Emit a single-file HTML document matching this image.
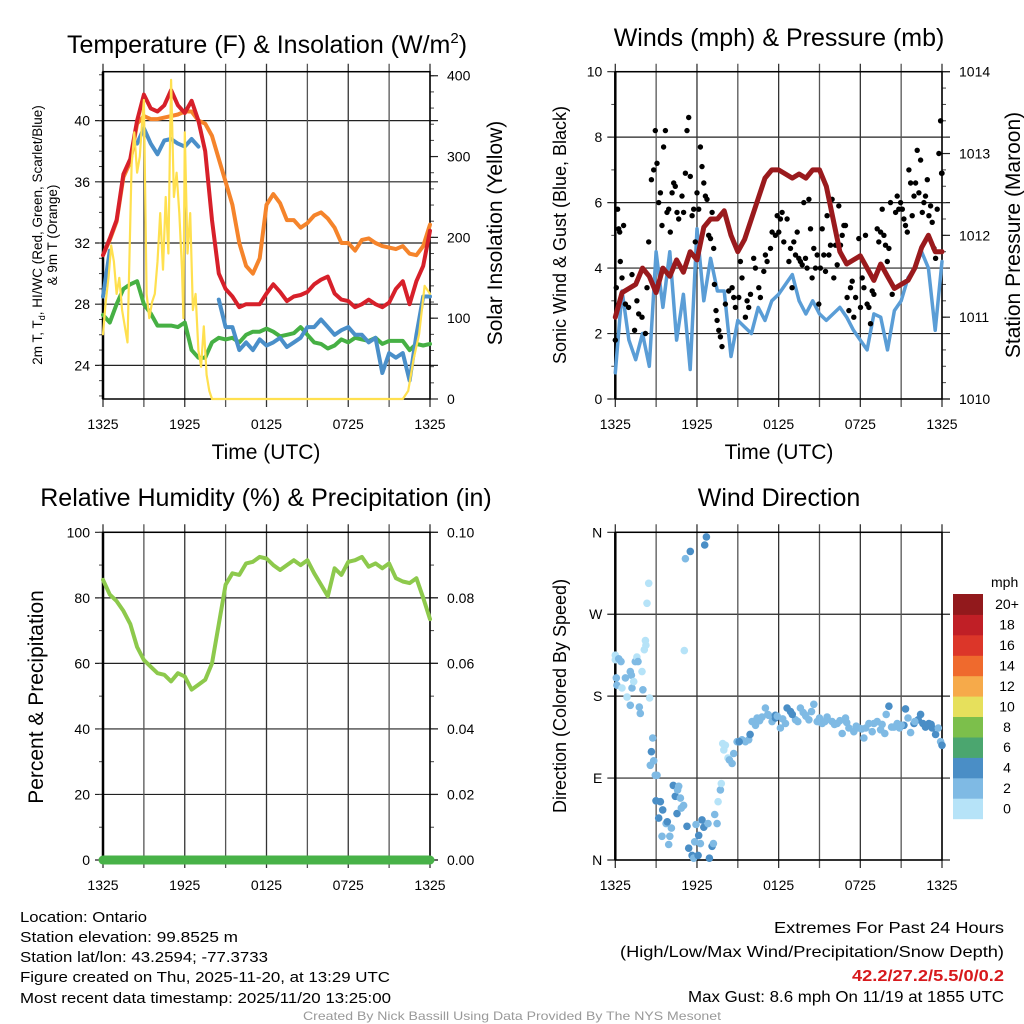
<!DOCTYPE html>
<html><head><meta charset="utf-8"><title>Mesonet Station Meteogram</title>
<style>
html,body{margin:0;padding:0;background:#fff;}
svg{display:block;font-family:"Liberation Sans",Arial,sans-serif;}
</style></head>
<body>
<svg id="fig" width="1024" height="1024" viewBox="0 0 1024 1024" xmlns="http://www.w3.org/2000/svg">
<rect x="0" y="0" width="1024" height="1024" fill="#fff"/>
<g id="layer"></g>
<text x="267" y="53" font-size="25" text-anchor="middle">Temperature (F) &amp; Insolation (W/m<tspan font-size="15" dy="-10">2</tspan><tspan dy="10">)</tspan></text>
<text x="779" y="46" font-size="25" text-anchor="middle">Winds (mph) &amp; Pressure (mb)</text>
<text x="266" y="506" font-size="25" text-anchor="middle">Relative Humidity (%) &amp; Precipitation (in)</text>
<text x="779" y="506" font-size="25" text-anchor="middle">Wind Direction</text>

<text x="266" y="459" font-size="21" text-anchor="middle">Time (UTC)</text>
<text x="779" y="459" font-size="21" text-anchor="middle">Time (UTC)</text>

<text transform="translate(42,235) rotate(-90)" font-size="13.5" text-anchor="middle">2m T, T<tspan font-size="9" dy="3">d</tspan><tspan dy="-3">, HI/WC (Red, Green, Scarlet/Blue)</tspan></text>
<text transform="translate(57,235) rotate(-90)" font-size="13.5" text-anchor="middle">&amp; 9m T (Orange)</text>
<text transform="translate(502,233) rotate(-90)" font-size="21" text-anchor="middle">Solar Insolation (Yellow)</text>
<text transform="translate(566,235) rotate(-90)" font-size="18" text-anchor="middle">Sonic Wind &amp; Gust (Blue, Black)</text>
<text transform="translate(1020,235) rotate(-90)" font-size="21" text-anchor="middle">Station Pressure (Maroon)</text>
<text transform="translate(43,697) rotate(-90)" font-size="21" text-anchor="middle">Percent &amp; Precipitation</text>
<text transform="translate(566,696) rotate(-90)" font-size="18" text-anchor="middle">Direction (Colored By Speed)</text>

<g font-size="15">
<text x="20" y="922" textLength="127" lengthAdjust="spacingAndGlyphs">Location: Ontario</text>
<text x="20" y="942" textLength="218" lengthAdjust="spacingAndGlyphs">Station elevation: 99.8525 m</text>
<text x="20" y="962" textLength="248" lengthAdjust="spacingAndGlyphs">Station lat/lon: 43.2594; -77.3733</text>
<text x="20" y="982" textLength="370" lengthAdjust="spacingAndGlyphs">Figure created on Thu, 2025-11-20, at 13:29 UTC</text>
<text x="20" y="1003" textLength="371" lengthAdjust="spacingAndGlyphs">Most recent data timestamp: 2025/11/20 13:25:00</text>
</g>
<g font-size="16">
<text x="774" y="933" textLength="230" lengthAdjust="spacingAndGlyphs">Extremes For Past 24 Hours</text>
<text x="620" y="957" textLength="384" lengthAdjust="spacingAndGlyphs">(High/Low/Max Wind/Precipitation/Snow Depth)</text>
<text x="852" y="981" textLength="152" lengthAdjust="spacingAndGlyphs" fill="#d7191c" font-weight="bold">42.2/27.2/5.5/0/0.2</text>
<text x="688" y="1002" textLength="316" lengthAdjust="spacingAndGlyphs">Max Gust: 8.6 mph On 11/19 at 1855 UTC</text>
</g>
<text x="512" y="1020" font-size="12" fill="#999" text-anchor="middle" textLength="418" lengthAdjust="spacingAndGlyphs">Created By Nick Bassill Using Data Provided By The NYS Mesonet</text>
</svg>
<script>
// ---------- data ----------
const timeTickHours = [0, 6, 12, 18, 24];
const timeTickLabels = ["1325", "1925", "0125", "0725", "1325"];
const halfHourSteps = [0,0.5,1,1.5,2,2.5,3,3.5,4,4.5,5,5.5,6,6.5,7,7.5,8,8.5,9,9.5,10,10.5,11,11.5,12,12.5,13,13.5,14,14.5,15,15.5,16,16.5,17,17.5,18,18.5,19,19.5,20,20.5,21,21.5,22,22.5,23,23.5,24];

const tempRed = [31.2,32.3,33.5,36.5,37.5,40,41.7,40.8,40.6,41,42,41,40.5,41.3,40,38,33.5,30,29,28.5,27.8,28,28,28,28.7,29.3,28.8,28.2,28.5,28.6,28.8,29.3,29.6,29.8,28.7,28.3,28.2,27.8,28,28.3,28,27.8,28.1,29,29.5,28,29.5,30.5,32.8];
const temp9mOrange = [31.2,32.2,33.4,36.3,37.3,39.8,40.3,40.1,40.1,40.2,40.3,40.4,40.6,40.6,40,39.8,39,37.5,36,34.5,32,30.5,30,31,34.5,35.2,34.6,33.5,33.5,33,33.3,33.8,34,33.6,33,32,32,31.5,32.2,32.3,32,31.8,31.7,31.6,31.8,31.3,31.2,31.8,33.2];
const tempBlue = [28.5,31.5,null,null,null,38.5,39.5,38.5,37.8,38.7,38.8,38.5,38.3,38.8,38.3,null,null,28.3,26.5,26.5,25,25.5,25,25.7,25.3,25.5,25.8,25.2,25.5,25.8,26.5,26.5,27,26.5,26,26.3,26.5,26,26,25.5,25.8,23.5,24.8,24.5,24.8,23,26,28.5,28.5];
const dewGreen = [27.3,26.8,28,29,29.3,29.5,28,27.4,26.6,26.6,26.6,26.5,26.8,25,24.5,24.5,25.5,25.8,25.7,25.8,25.5,26,26.2,26.2,26.4,26.2,25.9,26,26.1,26.5,26,25.5,25.4,25.1,25.3,25.7,25.5,25.8,25.7,25.6,25.8,25.4,25.6,25.6,25.6,25,25.4,25.3,25.4];

const solarHours = [0,0.2,0.4,0.6,0.8,1.0,1.2,1.4,1.8,2.0,2.1,2.3,2.5,2.7,2.9,3.0,3.2,3.4,3.6,3.8,4.0,4.2,4.4,4.6,4.8,4.9,5.0,5.2,5.4,5.6,5.8,5.9,6.0,6.2,6.4,6.6,6.8,7.0,7.2,7.4,7.6,7.8,8.0,22.0,22.4,22.8,23.2,23.6,24];
const solarValues = [80,120,150,190,170,130,150,110,70,220,290,330,280,300,350,370,130,100,120,130,170,230,160,250,180,300,395,250,280,230,160,100,330,180,230,110,130,60,40,90,30,10,0,0,10,50,80,140,130];

const windSpeed = [0.8,3.3,1.8,1.2,2.0,1.0,4.5,2.8,4.5,1.8,3.2,0.9,5.2,3.0,4.3,3.3,3.3,1.3,2.4,2.2,2.0,2.8,2.4,3.0,3.2,3.5,3.8,3.0,2.6,3.0,2.6,2.4,2.6,2.8,2.5,2.1,1.8,1.5,2.6,2.5,1.5,2.7,3.0,3.7,4.0,4.5,4.0,2.1,4.2];
const pressure = [1011.0,1011.3,1011.35,1011.4,1011.6,1011.5,1011.3,1011.6,1011.5,1011.7,1011.55,1011.8,1011.7,1012.1,1012.2,1012.2,1012.3,1012.0,1011.8,1011.95,1012.2,1012.45,1012.7,1012.8,1012.8,1012.75,1012.7,1012.75,1012.7,1012.8,1012.8,1012.6,1012.2,1011.8,1011.65,1011.7,1011.75,1011.6,1011.45,1011.65,1011.5,1011.35,1011.4,1011.45,1011.6,1011.85,1012.0,1011.8,1011.8];

const gustHours = [0,0.07,0.17,0.25,0.32,0.37,0.49,0.61,0.74,0.98,1.23,1.42,1.59,1.72,1.96,2.21,2.33,2.45,2.65,2.82,2.94,3.06,3.19,3.31,3.43,3.55,3.68,3.80,3.92,4.04,4.17,4.29,4.41,4.53,4.66,4.90,5.02,5.15,5.27,5.39,5.51,5.64,5.76,5.88,6.00,6.13,6.25,6.37,6.50,6.62,6.74,6.86,6.99,7.11,7.23,7.28,7.40,7.48,7.60,7.72,7.84,8.09,8.33,8.58,8.70,8.82,9.07,9.19,9.31,9.56,9.68,9.80,9.93,10.17,10.29,10.54,10.66,10.91,11.03,11.15,11.40,11.52,11.76,11.89,12.01,12.13,12.25,12.38,12.62,12.75,12.87,12.99,13.11,13.24,13.36,13.48,13.60,13.73,13.85,13.97,14.09,14.22,14.34,14.46,14.58,14.71,14.83,14.95,15.07,15.20,15.32,15.44,15.56,15.69,15.81,15.93,16.05,16.18,16.30,16.42,16.54,16.67,16.79,16.91,17.03,17.16,17.28,17.40,17.52,17.65,17.89,18.01,18.14,18.26,18.38,18.50,18.63,18.75,18.87,19.00,19.24,19.36,19.49,19.61,19.73,19.85,19.98,20.10,20.22,20.34,20.59,20.71,20.83,20.96,21.08,21.20,21.32,21.45,21.57,21.69,21.81,21.94,22.06,22.18,22.30,22.43,22.55,22.67,22.79,22.92,23.04,23.16,23.28,23.41,23.53,23.65,23.77,23.90,23.97,24.0];
const gustSpeeds = [1.8,3.4,5.8,5.2,5.1,4.2,3.7,5.3,2.9,2.8,3.8,2.1,3.0,2.6,2.5,2.0,3.4,4.8,6.7,7.0,8.2,7.2,6.0,6.3,5.3,7.7,8.2,5.7,5.8,5.1,6.3,6.6,6.5,5.7,5.5,6.2,5.7,6.9,8.2,8.6,6.8,5.6,5.8,4.8,6.3,5.8,7.7,7.1,6.6,6.2,6.1,5.0,4.9,5.7,4.6,3.5,2.7,2.4,2.1,1.9,1.6,2.9,3.3,3.4,3.1,2.8,3.1,4.2,3.7,2.5,3.0,2.8,3.2,4.3,4.0,3.4,3.1,3.9,4.4,4.2,4.6,5.1,5.0,5.6,5.1,5.5,5.7,4.8,5.5,4.2,4.6,3.4,4.8,4.4,5.1,4.3,4.2,4.1,6.0,4.3,4.0,6.1,5.2,3.7,4.6,4.0,4.4,2.9,4.0,5.2,4.4,3.9,5.6,4.4,4.7,6.1,3.7,4.7,4.1,5.9,4.7,5.0,5.3,5.3,3.1,2.7,3.4,3.6,2.5,3.1,4.9,2.8,3.7,3.4,5.0,2.9,2.8,2.3,3.3,3.2,5.2,4.8,5.1,5.8,5.0,4.7,4.2,4.6,6.0,3.2,5.7,6.2,5.8,6.0,5.8,5.5,5.3,5.1,7.0,6.6,5.6,6.2,6.6,7.6,6.3,7.3,5.7,6.0,6.2,6.7,5.6,5.9,5.4,4.6,4.3,5.8,7.5,8.5,6.9,6.9];

const rhValues = [85.5,81,79,76,72,65,61,59,57,56.5,54.5,57,56,52,53.5,55,60,72,84,87.5,87,90.5,91,92.5,92,90,88.5,90,91.5,90,91.5,87.5,84,80.5,89,87,91,91.5,92.5,89.5,90.5,89,90.5,86,85,84.5,86,80,73.5];
const precipValues = [0,0,0,0,0,0,0,0,0,0,0,0,0,0,0,0,0,0,0,0,0,0,0,0,0,0,0,0,0,0,0,0,0,0,0,0,0,0,0,0,0,0,0,0,0,0,0,0,0];

const dirHours = [0,0,0.25,0.42,0.07,0.12,0.49,0.74,0.86,1.10,1.18,1.23,1.47,1.59,1.35,1.10,1.67,1.76,1.84,2.03,1.96,2.13,2.21,2.25,2.33,2.45,2.52,2.75,2.65,2.82,2.57,2.94,3.06,2.99,3.48,3.31,3.73,3.82,3.19,3.43,3.92,4.12,4.00,4.26,4.41,4.53,4.66,4.78,5.02,4.58,4.85,5.07,5.51,6.57,6.69,5.15,5.27,5.39,5.64,5.76,5.83,5.93,6.13,6.08,6.25,6.37,6.50,6.81,6.91,7.11,7.21,7.30,7.48,7.55,7.72,7.79,7.97,8.09,7.89,8.28,8.38,8.58,8.70,8.95,9.31,9.56,9.80,10.05,10.42,10.78,11.03,11.27,11.52,11.76,11.76,12.13,12.50,12.62,12.87,13.24,13.41,13.60,13.97,14.22,14.41,14.58,14.83,15.20,15.56,15.93,16.30,16.67,16.91,17.16,17.52,17.89,18.26,18.63,18.87,19.24,19.49,19.80,19.90,20.10,20.47,20.71,20.88,21.20,21.32,21.50,21.69,21.94,22.25,22.43,22.79,23.04,23.28,23.53,23.73,23.90,24,9.1,9.9,10.3,10.6,11.2,11.9,12.3,13.0,13.8,14.0,15.0,15.4,16.1,16.5,17.0,17.7,18.1,18.4,19.0,19.6,20.3,21.0,22.0,22.6,23.2];
const dirDegrees = [225,220,221,218,200,192,189,200,179,207,203,189,218,223,196,170,218,168,161,187,207,231,241,236,282,304,178,134,119,109,104,93,93,65,55,64,40,42,46,26,17,35,26,82,70,51,81,68,60,77,57,230,339,346,355,331,37,13,5,2,20,39,27,5,18,44,36,40,2,15,18,50,40,64,77,84,121,126,128,112,110,106,117,130,132,130,132,152,156,157,167,159,152,159,156,145,150,167,163,154,152,167,159,154,163,171,152,150,157,152,150,139,156,145,141,145,134,150,141,152,143,139,160,169,146,150,145,148,166,156,140,150,154,160,146,150,145,138,145,130,126,130,138,148,153,160,158,155,160,162,158,156,152,149,153,151,147,144,145,150,149,146,148,152,150,149,151,149,147,143,140];
const dirSpeeds = [1,1.5,2.5,2.5,2.5,2.5,1.5,2.5,1,2.5,2.5,2.5,2.5,1.5,1.5,2.5,2.5,2.5,2.5,2.5,1.5,1,1,1,1,1,1,2.5,4.5,2.5,2.5,2.5,2.5,4.5,4.5,4.5,2.5,4.5,4.5,2.5,2.5,2.5,2.5,4.5,4.5,4.5,2.5,2.5,2.5,2.5,2.5,1,4.5,4.5,4.5,2.5,4.5,4.5,4.5,2.5,2.5,2.5,4.5,4.5,2.5,4.5,4.5,2.5,4.5,4.5,2.5,2.5,2.5,1,2.5,1,1,1,1,1,2.5,2.5,2.5,2.5,2.5,2.5,2.5,2.5,2.5,2.5,2.5,2.5,2.5,4.5,4.5,2.5,2.5,4.5,4.5,2.5,2.5,2.5,2.5,2.5,2.5,2.5,2.5,2.5,2.5,2.5,2.5,2.5,2.5,2.5,2.5,2.5,2.5,2.5,2.5,2.5,2.5,2.5,2.5,4.5,2.5,2.5,2.5,4.5,4.5,2.5,2.5,4.5,4.5,4.5,4.5,4.5,4.5,4.5,2.5,2.5,4.5,4.5,4.5,2.5,2.5,2.5,2.5,2.5,4.5,2.5,2.5,2.5,2.5,2.5,2.5,2.5,2.5,2.5,2.5,2.5,2.5,2.5,2.5,2.5,4.5,4.5,2.5,2.5,2.5];

const speedBinLabels = ["0","2","4","6","8","10","12","14","16","18","20+"];
const speedBinColors = ["#b6e3f8","#7fbae4","#4a8ec6","#4ba66f","#7cbf4b","#e6e05c","#f6aa4a","#ef6a2d","#dc3629","#c01f26","#92191c"];
const speedBinEdges = [0,2,4,6,8,10,12,14,16,18,20];

// ---------- drawing ----------
const NS = "http://www.w3.org/2000/svg";
const layer = document.getElementById("layer");
function mk(tag, attrs, parent) {
  const el = document.createElementNS(NS, tag);
  for (const k in attrs) el.setAttribute(k, attrs[k]);
  (parent || layer).appendChild(el);
  return el;
}
function linScale(d0, d1, r0, r1) { return v => r0 + (v - d0) * (r1 - r0) / (d1 - d0); }

function makePanel(name, x0, x1, y0, y1, yMin, yMax, rMin, rMax) {
  return {name, x0, x1, y0, y1,
    sx: linScale(0, 24, x0, x1),
    sy: linScale(yMin, yMax, y1, y0),
    sr: linScale(rMin, rMax, y1, y0)};
}
const P1 = makePanel("temperature", 103, 430, 71.7, 399, 21.8, 43.2, 0, 405);
const P2 = makePanel("wind", 615.3, 942, 71.7, 399, 0, 10, 1010, 1014);
const P3 = makePanel("humidity", 103, 430, 532.3, 860, 0, 100, 0, 0.1);
const P4 = makePanel("direction", 615.3, 942, 532.3, 860, 0, 360, 0, 1);

function drawFrame(P, leftTicks, leftLabels, leftMinor, rightTicks, rightLabels, rightMinor, hasRight) {
  const g = mk("g", {});
  
  
  leftTicks.forEach(v => {
    const y = P.sy(v);
    const l = mk("line", {x1: P.x0 - 8, x2: P.x1 + 8, y1: y, y2: y, stroke: "#222", "stroke-width": 1.2}, g);
    
    
  });
  for (let h = 0; h <= 24; h += 3) {
    const x = P.sx(h);
    const l = mk("line", {x1: x, x2: x, y1: P.y0 - 8, y2: P.y1 + 8, stroke: (h % 6 === 0) ? "#333" : "#555", "stroke-width": 1.3}, g);
    
    
  }
  leftMinor.forEach(v => { const y = P.sy(v); mk("line", {x1: P.x0 - 4, x2: P.x0, y1: y, y2: y, stroke: "#444", "stroke-width": 1}, g); });
  if (hasRight) rightMinor.forEach(v => { const y = P.sr(v); mk("line", {x1: P.x1, x2: P.x1 + 4, y1: y, y2: y, stroke: "#444", "stroke-width": 1}, g); });
  if (hasRight) rightTicks.forEach(v => { const y = P.sr(v); mk("line", {x1: P.x1, x2: P.x1 + 8, y1: y, y2: y, stroke: "#222", "stroke-width": 1.2}, g); });
  mk("rect", {x: P.x0, y: P.y0, width: P.x1 - P.x0, height: P.y1 - P.y0, fill: "none", stroke: "#000", "stroke-width": 1.5}, g);
  mk("line", {x1: P.x0, x2: P.x0, y1: P.y0, y2: P.y1, stroke: "#000", "stroke-width": 2.5}, g);
  leftTicks.forEach((v, i) => {
    const t = mk("text", {x: P.x0 - 13, y: P.sy(v) + 5, "font-size": 14, "text-anchor": "end"}, g);
    t.textContent = leftLabels[i];
    
    
  });
  if (hasRight) rightTicks.forEach((v, i) => {
    const t = mk("text", {x: P.x1 + 17, y: P.sr(v) + 5, "font-size": 14}, g);
    t.textContent = rightLabels[i];
    
    
  });
  timeTickHours.forEach((h, i) => {
    const t = mk("text", {x: P.sx(h), y: P.y1 + 30, "font-size": 14, "text-anchor": "middle"}, g);
    t.textContent = timeTickLabels[i];
    
    
  });
}
function range(a, b, s) { const r = []; for (let v = a; v <= b + 1e-9; v += s) r.push(+v.toFixed(4)); return r; }

function pathFrom(hours, vals, sx, sy) {
  let d = "", pen = false;
  for (let i = 0; i < vals.length; i++) {
    if (vals[i] === null) { pen = false; continue; }
    d += (pen ? "L" : "M") + sx(hours[i]).toFixed(1) + "," + sy(vals[i]).toFixed(1);
    pen = true;
  }
  return d;
}
function drawLine(P, hours, vals, scale, color, width, name) {
  const p = mk("path", {d: pathFrom(hours, vals, P.sx, scale), fill: "none", stroke: color, "stroke-width": width, "stroke-linejoin": "round", "stroke-linecap": "round"});
  
  
  return p;
}

// Panel 1
drawFrame(P1, [24,28,32,36,40], ["24","28","32","36","40"], range(22,43,1), [0,100,200,300,400], ["0","100","200","300","400"], range(0,400,20), true);
drawLine(P1, halfHourSteps, temp9mOrange, P1.sy, "#f5842b", 4, "temperature-9m-line");
drawLine(P1, halfHourSteps, tempRed, P1.sy, "#d7202a", 4, "temperature-2m-line");
drawLine(P1, halfHourSteps, dewGreen, P1.sy, "#46b044", 4, "dewpoint-line");
drawLine(P1, halfHourSteps, tempBlue, P1.sy, "#4a8fc9", 4, "wind-chill-line");
drawLine(P1, solarHours, solarValues, P1.sr, "#ffe04f", 2.2, "solar-insolation-line");

// Panel 2
drawFrame(P2, [0,2,4,6,8,10], ["0","2","4","6","8","10"], range(0,10,1), [1010,1011,1012,1013,1014], ["1010","1011","1012","1013","1014"], range(1010,1014,0.2), true);
drawLine(P2, halfHourSteps, windSpeed, P2.sy, "#5a9dd6", 3.5, "sonic-wind-line");
gustHours.forEach((h, i) => {
  const c = mk("circle", {cx: P2.sx(h).toFixed(1), cy: P2.sy(gustSpeeds[i]).toFixed(1), r: 2.7, fill: "#000"});
  
  
});
drawLine(P2, halfHourSteps, pressure, P2.sr, "#9a1a1d", 5, "station-pressure-line");

// Panel 3
drawFrame(P3, [0,20,40,60,80,100], ["0","20","40","60","80","100"], range(0,100,10), [0,0.02,0.04,0.06,0.08,0.1], ["0.00","0.02","0.04","0.06","0.08","0.10"], range(0,0.1,0.01), true);
drawLine(P3, halfHourSteps, rhValues, P3.sy, "#8dc94c", 4, "relative-humidity-line");
drawLine(P3, halfHourSteps, precipValues, P3.sr, "#48b248", 9, "precipitation-line");

// Panel 4
drawFrame(P4, [0,90,180,270,360], ["N","E","S","W","N"], [], [], [], [], false);
function speedColor(s) {
  let k = 0;
  for (let i = 0; i < speedBinEdges.length; i++) if (s >= speedBinEdges[i]) k = i;
  return speedBinColors[k];
}
dirHours.forEach((h, i) => {
  const c = mk("circle", {cx: P4.sx(h).toFixed(1), cy: P4.sy(dirDegrees[i]).toFixed(1), r: 3.8, fill: speedColor(dirSpeeds[i])});
  
  
});
const cb = mk("g", {});


const cbTop = 594, cbBot = 818.7, cbX = 953, cbW = 30;
const binH = (cbBot - cbTop) / speedBinColors.length;
speedBinColors.forEach((col, i) => {
  const y = cbBot - (i + 1) * binH;
  const r = mk("rect", {x: cbX, y: y.toFixed(1), width: cbW, height: (binH + 0.5).toFixed(1), fill: col}, cb);
  
  
  const t = mk("text", {x: 1007, y: (y + binH / 2 + 5).toFixed(1), "font-size": 14, "text-anchor": "middle"}, cb);
  t.textContent = speedBinLabels[i];
  
  
});
const mph = mk("text", {x: 991, y: 587, "font-size": 14}, cb);
mph.textContent = "mph";


</script>
</body></html>
